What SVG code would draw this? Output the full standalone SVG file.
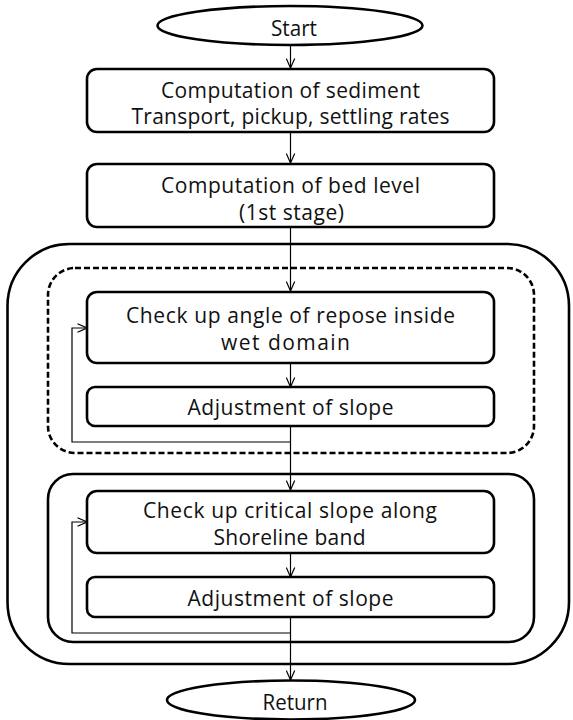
<svg xmlns="http://www.w3.org/2000/svg" width="573" height="720" viewBox="0 0 573 720">
<defs>
<marker id="arr" viewBox="0 0 10 10" refX="10" refY="5" markerWidth="10" markerHeight="10" markerUnits="userSpaceOnUse" orient="auto">
<path d="M0.5,0.8 L10,5 L0.5,9.2" fill="none" stroke="#000" stroke-width="1.2"/>
</marker>
<style>
.box{fill:#fff;stroke:#000;stroke-width:2.6}
.grp{fill:none;stroke:#000;stroke-width:2.6}
.dash{fill:none;stroke:#000;stroke-width:2.6;stroke-dasharray:6 3}
.con{fill:none;stroke:#000;stroke-width:1.2}
text{font-family:"Open Sans","Noto Sans","DejaVu Sans",sans-serif;font-size:21px;fill:#111;text-anchor:middle}
</style>
</defs>
<rect width="573" height="720" fill="#fff"/>
<g id="outer-group"><rect class="grp" x="7.5" y="244" width="561.5" height="420" rx="62" ry="62"/></g>
<g id="wet-group"><rect class="dash" x="48" y="268" width="486" height="185" rx="27" ry="27"/></g>
<g id="shore-group"><rect class="grp" x="48" y="474" width="486" height="168" rx="25" ry="25"/></g>
<g id="connectors">
<line class="con" x1="290.5" y1="45" x2="290.5" y2="68" marker-end="url(#arr)"/>
<line class="con" x1="290.5" y1="132" x2="290.5" y2="163" marker-end="url(#arr)"/>
<line class="con" x1="290.5" y1="227" x2="290.5" y2="291" marker-end="url(#arr)"/>
<line class="con" x1="290.5" y1="363" x2="290.5" y2="387" marker-end="url(#arr)"/>
<line class="con" x1="290.5" y1="426" x2="290.5" y2="490" marker-end="url(#arr)"/>
<polyline class="con" points="290.5,442 72,442 72,328 87,328" marker-end="url(#arr)"/>
<line class="con" x1="290.5" y1="553" x2="290.5" y2="577" marker-end="url(#arr)"/>
<line class="con" x1="290.5" y1="617" x2="290.5" y2="680" marker-end="url(#arr)"/>
<polyline class="con" points="290.5,633 72,633 72,522 87,522" marker-end="url(#arr)"/>
</g>
<g id="start"><ellipse class="box" cx="290" cy="25.5" rx="132.5" ry="19.5"/><text x="294" y="36" textLength="46" lengthAdjust="spacingAndGlyphs">Start</text></g>
<g id="sediment"><rect class="box" x="87" y="69" width="407" height="63" rx="10" ry="10"/>
<text x="290.5" y="98" textLength="259" lengthAdjust="spacing">Computation of sediment</text>
<text x="290.5" y="124" textLength="318" lengthAdjust="spacing">Transport, pickup, settling rates</text></g>
<g id="bedlevel"><rect class="box" x="87" y="164" width="407" height="63" rx="10" ry="10"/>
<text x="290.5" y="193" textLength="259" lengthAdjust="spacing">Computation of bed level</text>
<text x="291.5" y="220" textLength="105" lengthAdjust="spacing">(1st stage)</text></g>
<g id="repose"><rect class="box" x="87" y="292" width="407" height="71" rx="10" ry="10"/>
<text x="290.5" y="323" textLength="329" lengthAdjust="spacing">Check up angle of repose inside</text>
<text x="285.5" y="350" textLength="129" lengthAdjust="spacing">wet domain</text></g>
<g id="adjust1"><rect class="box" x="87" y="387" width="407" height="39" rx="8" ry="8"/>
<text x="290.5" y="415" textLength="206" lengthAdjust="spacing">Adjustment of slope</text></g>
<g id="critical"><rect class="box" x="87" y="491" width="407" height="62" rx="10" ry="10"/>
<text x="290" y="518" textLength="294" lengthAdjust="spacing">Check up critical slope along</text>
<text x="289.5" y="545" textLength="152" lengthAdjust="spacing">Shoreline band</text></g>
<g id="adjust2"><rect class="box" x="87" y="577" width="407" height="40" rx="8" ry="8"/>
<text x="290.5" y="606" textLength="206" lengthAdjust="spacing">Adjustment of slope</text></g>
<g id="return"><ellipse class="box" cx="291" cy="700" rx="124" ry="19.5"/><text x="295" y="710" textLength="65" lengthAdjust="spacingAndGlyphs">Return</text></g>
</svg>
